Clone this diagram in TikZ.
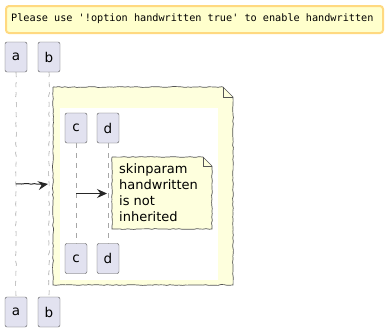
\documentclass[tikz,border=0pt]{standalone}
\usepackage{fontspec}
\setmainfont{DejaVu Sans}
\newfontfamily\monofont{DejaVu Sans Mono}
\usetikzlibrary{arrows.meta,decorations.pathmorphing}
\definecolor{partfill}{HTML}{E2E2F0}
\definecolor{partline}{HTML}{555555}
\definecolor{notefill}{HTML}{FEFFDD}
\definecolor{warnfill}{HTML}{FFFFCC}
\definecolor{warnline}{HTML}{FFD980}
\tikzset{
  wobbly/.style={decorate,decoration={random steps,segment length=3pt,amplitude=0.45pt}},
  partbox/.style={draw=partline,fill=partfill,rounded corners=2pt,minimum width=22pt,minimum height=30pt,inner sep=0pt,font=\fontsize{13.5}{15}\selectfont},
  lifeline/.style={draw=gray!70,dash pattern=on 5pt off 5pt,line width=0.6pt},
  msg/.style={draw=black!85,line width=1pt,-{Stealth[length=10pt,width=9pt,inset=3.5pt]}},
  noteline/.style={draw=partline,line width=0.7pt},
}
\begin{document}
\begin{tikzpicture}[x=1pt,y=-1pt]
\useasboundingbox (0,0) rectangle (386,333);
% warning
\node[draw=warnline,line width=2pt,fill=warnfill,rounded corners=3pt,minimum width=377pt,minimum height=27pt,anchor=north west,inner sep=0pt] (warn) at (5,5) {};
\node[anchor=west,inner sep=0pt,font=\monofont\fontsize{10.2}{12}\selectfont] (warntext) at (11,18.5) {Please use '!option handwritten true' to enable handwritten};
% participants
\node[partbox] (at) at (16,57) {a};
\node[partbox] (bt) at (49,57) {b};
\node[partbox] (ab) at (16,312) {a};
\node[partbox] (bb) at (49,312) {b};
\draw[lifeline,wobbly] (at.south) -- (ab.north);
\draw[lifeline,wobbly] (bt.south) -- (bb.north);
% big note
\fill[notefill] (53,87) -- (223,87) -- (233,97) -- (233,285) -- (53,285) -- cycle;
\draw[noteline,wobbly] (53,87) -- (223,87);
\draw[noteline,wobbly] (233,97) -- (233,285) -- (53,285) -- (53,87);
\draw[noteline] (223,87) -- (233,97);
\draw[noteline] (223,87) -- (223,97) -- (233,97);
\node[fill=white,draw=none,minimum width=158pt,minimum height=172pt,anchor=north west,inner sep=0pt] (inner) at (60,108) {};
% inner participants
\node[partbox] (ct) at (76,128) {c};
\node[partbox] (dt) at (108,128) {d};
\node[partbox] (cb) at (76,258.5) {c};
\node[partbox] (db) at (108,258.5) {d};
\draw[lifeline] (ct.south) -- (cb.north);
\draw[lifeline] (dt.south) -- (db.north);
% small note
\fill[notefill] (112,157) -- (203,157) -- (212,166) -- (212,229) -- (112,229) -- cycle;
\draw[noteline,wobbly] (112,157) -- (203,157);
\draw[noteline,wobbly] (212,166) -- (212,229) -- (112,229) -- (112,157);
\draw[noteline] (203,157) -- (212,166);
\draw[noteline] (203,157) -- (203,166) -- (212,166);
\node[anchor=north west,align=left,inner sep=0pt,font=\fontsize{13}{16}\selectfont] (notetext) at (119,163) {skinparam\\handwritten\\is not\\inherited};
% messages
\coordinate (m1s) at (16,184);
\coordinate (m1e) at (48,184);
\draw[msg,wobbly] (m1s) -- (m1e);
\coordinate (m2s) at (76,193.5);
\coordinate (m2e) at (107,193.5);
\draw[msg] (m2s) -- (m2e);
\end{tikzpicture}
\end{document}
